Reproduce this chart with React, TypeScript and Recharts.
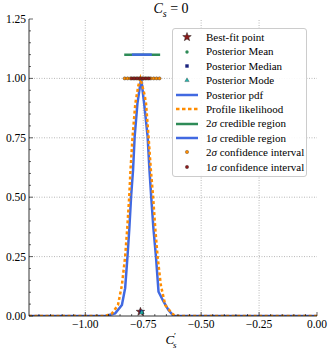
import React from "react";
import {
  ComposedChart,
  Line,
  Scatter,
  XAxis,
  YAxis,
  ReferenceLine,
  Legend,
} from "recharts";

// ---- data ----
const posteriorPdf = [
  { x: -1.243, y: 0 },
  { x: -0.914, y: 0 },
  { x: -0.871, y: 0.011 },
  { x: -0.842, y: 0.046 },
  { x: -0.828, y: 0.117 },
  { x: -0.818, y: 0.25 },
  { x: -0.81, y: 0.369 },
  { x: -0.802, y: 0.509 },
  { x: -0.794, y: 0.614 },
  { x: -0.787, y: 0.755 },
  { x: -0.775, y: 0.895 },
  { x: -0.759, y: 1.0 },
  { x: -0.746, y: 0.895 },
  { x: -0.731, y: 0.755 },
  { x: -0.723, y: 0.614 },
  { x: -0.716, y: 0.509 },
  { x: -0.706, y: 0.369 },
  { x: -0.695, y: 0.25 },
  { x: -0.684, y: 0.102 },
  { x: -0.662, y: 0.06 },
  { x: -0.641, y: 0.025 },
  { x: -0.619, y: 0 },
  { x: 0, y: 0 },
];

const profileLikelihood = [
  { x: -1.243, y: 0 },
  { x: -0.914, y: 0 },
  { x: -0.885, y: 0.011 },
  { x: -0.859, y: 0.046 },
  { x: -0.842, y: 0.13 },
  { x: -0.828, y: 0.25 },
  { x: -0.819, y: 0.369 },
  { x: -0.81, y: 0.509 },
  { x: -0.805, y: 0.614 },
  { x: -0.796, y: 0.755 },
  { x: -0.784, y: 0.895 },
  { x: -0.771, y: 0.97 },
  { x: -0.762, y: 1.0 },
  { x: -0.744, y: 0.93 },
  { x: -0.738, y: 0.895 },
  { x: -0.727, y: 0.755 },
  { x: -0.717, y: 0.614 },
  { x: -0.708, y: 0.509 },
  { x: -0.698, y: 0.369 },
  { x: -0.688, y: 0.25 },
  { x: -0.674, y: 0.13 },
  { x: -0.655, y: 0.046 },
  { x: -0.626, y: 0.011 },
  { x: -0.61, y: 0 },
  { x: 0, y: 0 },
];

const credible2 = [
  { x: -0.832, y: 1.1 },
  { x: -0.677, y: 1.1 },
];
const credible1 = [
  { x: -0.799, y: 1.1 },
  { x: -0.713, y: 1.1 },
];

const confidence2 = [
  -0.83, -0.8175, -0.805, -0.7925, -0.78, -0.7675, -0.755, -0.7425, -0.73,
  -0.7175, -0.705, -0.6925, -0.68,
].map((x) => ({ x, y: 1.0 }));
const confidence1 = [
  -0.8, -0.7875, -0.775, -0.7625, -0.75, -0.7375, -0.725,
].map((x) => ({ x, y: 1.0 }));

const bestFit = [{ x: -0.762, y: 0.018 }];
const postMean = [{ x: -0.758, y: 0.018 }];
const postMedian = [{ x: -0.758, y: 0.018 }];
const postMode = [{ x: -0.756, y: 0.016 }];

const xMajor = [-1.0, -0.75, -0.5, -0.25, 0.0];
const xMajorLabels = ["\u22121.00", "\u22120.75", "\u22120.50", "\u22120.25", "0.00"];
const xMinor = [
  -1.2, -1.15, -1.1, -1.05, -0.95, -0.9, -0.85, -0.8, -0.7, -0.65, -0.6, -0.55,
  -0.45, -0.4, -0.35, -0.3, -0.2, -0.15, -0.1, -0.05,
];
const yMajor = [0, 0.25, 0.5, 0.75, 1.0, 1.25];
const yMajorLabels = ["0.00", "0.25", "0.50", "0.75", "1.00", "1.25"];
const yMinor = [
  0.05, 0.1, 0.15, 0.2, 0.3, 0.35, 0.4, 0.45, 0.55, 0.6, 0.65, 0.7, 0.8, 0.85,
  0.9, 0.95, 1.05, 1.1, 1.15, 1.2,
];

const X_DOMAIN: [number, number] = [-1.243, 0];
const Y_DOMAIN: [number, number] = [0, 1.25];

const BLUE = "#4169e1";
const ORANGE = "#ff8c00";
const GREEN = "#2e8b57";
const DARKRED = "#8b1a1a";
const NAVY = "#1a237e";
const TEAL = "#20b2aa";
const FONT = "Liberation Serif, serif";

const isMajorX = (v: number) => xMajor.some((m) => Math.abs(m - v) < 1e-6);
const isMajorY = (v: number) => yMajor.some((m) => Math.abs(m - v) < 1e-6);
const xTicks = [...xMajor, ...xMinor].sort((a, b) => a - b);
const yTicks = [...yMajor, ...yMinor].sort((a, b) => a - b);

const labelFor = (vals: number[], labels: string[], v: number) => {
  const i = vals.findIndex((m) => Math.abs(m - v) < 1e-6);
  return i >= 0 ? labels[i] : "";
};

const BottomTick = (p: any) => {
  const v = p.payload.value;
  const major = isMajorX(v);
  return (
    <g>
      <line x1={p.x} x2={p.x} y1={p.y} y2={p.y - (major ? 4 : 2)} stroke="#000" strokeWidth={0.6} />
      {major && (
        <text x={p.x} y={p.y + 12} textAnchor="middle" fontFamily={FONT} fontSize={11.5} fill="#000">
          {labelFor(xMajor, xMajorLabels, v)}
        </text>
      )}
    </g>
  );
};
const TopTick = (p: any) => {
  const major = isMajorX(p.payload.value);
  return <line x1={p.x} x2={p.x} y1={p.y} y2={p.y + (major ? 4 : 2)} stroke="#000" strokeWidth={0.6} />;
};
const LeftTick = (p: any) => {
  const v = p.payload.value;
  const major = isMajorY(v);
  return (
    <g>
      <line x1={p.x} x2={p.x + (major ? 4 : 2)} y1={p.y} y2={p.y} stroke="#000" strokeWidth={0.6} />
      {major && (
        <text x={p.x - 3} y={p.y + 4} textAnchor="end" fontFamily={FONT} fontSize={11.5} fill="#000">
          {labelFor(yMajor, yMajorLabels, v)}
        </text>
      )}
    </g>
  );
};
const RightTick = (p: any) => {
  const major = isMajorY(p.payload.value);
  return <line x1={p.x} x2={p.x - (major ? 4 : 2)} y1={p.y} y2={p.y} stroke="#000" strokeWidth={0.6} />;
};

const dotShape = (fill: string, r: number) => (p: any) =>
  <circle cx={p.cx} cy={p.cy} r={r} fill={fill} stroke="#222" strokeWidth={0.4} />;

const starPath = (cx: number, cy: number, R: number) => {
  const pts: string[] = [];
  for (let i = 0; i < 10; i++) {
    const r = i % 2 === 0 ? R : R * 0.42;
    const a = -Math.PI / 2 + (i * Math.PI) / 5;
    pts.push(`${cx + r * Math.cos(a)},${cy + r * Math.sin(a)}`);
  }
  return `M${pts.join("L")}Z`;
};
const StarShape = (p: any) => <path d={starPath(p.cx, p.cy, 4.5)} fill={DARKRED} stroke="#222" strokeWidth={0.5} />;
const SquareShape = (p: any) => <rect x={p.cx - 1.8} y={p.cy - 1.8} width={3.6} height={3.6} fill={NAVY} />;
const TriShape = (p: any) => (
  <path d={`M${p.cx},${p.cy - 2.5}L${p.cx + 2.4},${p.cy + 1.8}L${p.cx - 2.4},${p.cy + 1.8}Z`} fill={TEAL} stroke="#222" strokeWidth={0.3} />
);

const legendItems: { label: React.ReactNode; icon: React.ReactNode }[] = [
  { label: "Best-fit point", icon: <path d={starPath(11, 5, 4.5)} fill={DARKRED} stroke="#222" strokeWidth={0.5} /> },
  { label: "Posterior Mean", icon: <circle cx={11} cy={5} r={1.7} fill={GREEN} /> },
  { label: "Posterior Median", icon: <rect x={9.3} y={3.3} width={3.4} height={3.4} fill={NAVY} /> },
  { label: "Posterior Mode", icon: <path d="M11,2.8L13.2,6.6L8.8,6.6Z" fill={TEAL} stroke="#222" strokeWidth={0.3} /> },
  { label: "Posterior pdf", icon: <line x1={0} x2={22} y1={5} y2={5} stroke={BLUE} strokeWidth={2.5} /> },
  { label: "Profile likelihood", icon: <line x1={0} x2={22} y1={5} y2={5} stroke={ORANGE} strokeWidth={2.5} strokeDasharray="3.5 2.5" /> },
  { label: <>2<i>σ</i> credible region</>, icon: <line x1={0} x2={22} y1={5} y2={5} stroke={GREEN} strokeWidth={2.5} /> },
  { label: <>1<i>σ</i> credible region</>, icon: <line x1={0} x2={22} y1={5} y2={5} stroke={BLUE} strokeWidth={2.5} /> },
  { label: <>2<i>σ</i> confidence interval</>, icon: <circle cx={11} cy={5} r={1.7} fill={ORANGE} stroke="#222" strokeWidth={0.3} /> },
  { label: <>1<i>σ</i> confidence interval</>, icon: <circle cx={11} cy={5} r={1.7} fill={DARKRED} stroke="#222" strokeWidth={0.3} /> },
];

const LegendBox = () => (
  <div
    style={{
      border: "1px solid #ccc",
      borderRadius: 3,
      background: "rgba(255,255,255,0.9)",
      padding: "1px 4px 2px 3px",
      fontFamily: FONT,
      fontSize: 11,
      lineHeight: "14.4px",
      width: 135,
      boxSizing: "border-box",
    }}
  >
    {legendItems.map((it, i) => (
      <div key={i} style={{ display: "flex", alignItems: "center", height: 14.4, whiteSpace: "nowrap" }}>
        <svg width={22} height={10} style={{ marginRight: 8, flex: "none" }}>
          {it.icon}
        </svg>
        <span>{it.label}</span>
      </div>
    ))}
  </div>
);

export default function App() {
  return (
    <div style={{ position: "absolute", left: 0, top: 0, width: 332, height: 351, background: "#fff" }}>
      <ComposedChart width={332} height={351} margin={{ top: 19, right: 15, bottom: 15, left: 1 }}>
        <XAxis
          xAxisId="b"
          type="number"
          dataKey="x"
          domain={X_DOMAIN}
          allowDataOverflow
          ticks={xTicks}
          interval={0}
          tickSize={0}
          tickMargin={0}
          tick={BottomTick}
          height={20}
          axisLine={{ stroke: "#000", strokeWidth: 0.8 }}
          tickLine={false}
        />
        <XAxis
          xAxisId="t"
          orientation="top"
          type="number"
          domain={X_DOMAIN}
          allowDataOverflow
          ticks={xTicks}
          interval={0}
          tickSize={0}
          tickMargin={0}
          tick={TopTick}
          height={0}
          axisLine={{ stroke: "#000", strokeWidth: 0.8 }}
          tickLine={false}
        />
        <YAxis
          yAxisId="l"
          type="number"
          domain={Y_DOMAIN}
          allowDataOverflow
          ticks={yTicks}
          interval={0}
          tickSize={0}
          tickMargin={0}
          tick={LeftTick}
          width={28}
          axisLine={{ stroke: "#000", strokeWidth: 0.8 }}
          tickLine={false}
        />
        <YAxis
          yAxisId="r"
          orientation="right"
          type="number"
          domain={Y_DOMAIN}
          allowDataOverflow
          ticks={yTicks}
          interval={0}
          tickSize={0}
          tickMargin={0}
          tick={RightTick}
          width={0}
          axisLine={{ stroke: "#000", strokeWidth: 0.8 }}
          tickLine={false}
        />
        {xMajor.filter((v) => v > X_DOMAIN[0] && v < X_DOMAIN[1]).map((v) => (
          <ReferenceLine key={"gx" + v} xAxisId="b" yAxisId="l" x={v} stroke="#999" strokeWidth={0.7} strokeDasharray="1 1.5" />
        ))}
        {yMajor.filter((v) => v > Y_DOMAIN[0] && v < Y_DOMAIN[1]).map((v) => (
          <ReferenceLine key={"gy" + v} xAxisId="b" yAxisId="l" y={v} stroke="#999" strokeWidth={0.7} strokeDasharray="1 1.5" />
        ))}
        <Line xAxisId="b" yAxisId="l" data={credible2} dataKey="y" stroke={GREEN} strokeWidth={2.5} dot={false} activeDot={false} isAnimationActive={false} />
        <Line xAxisId="b" yAxisId="l" data={credible1} dataKey="y" stroke={BLUE} strokeWidth={2.5} dot={false} activeDot={false} isAnimationActive={false} />
        <Scatter xAxisId="b" yAxisId="l" data={confidence2} dataKey="y" shape={dotShape(ORANGE, 1.6)} isAnimationActive={false} />
        <Scatter xAxisId="b" yAxisId="l" data={confidence1} dataKey="y" shape={dotShape(DARKRED, 1.6)} isAnimationActive={false} />
        <Line xAxisId="b" yAxisId="l" data={posteriorPdf} dataKey="y" stroke={BLUE} strokeWidth={2.5} dot={false} activeDot={false} isAnimationActive={false} />
        <Line xAxisId="b" yAxisId="l" data={profileLikelihood} dataKey="y" stroke={ORANGE} strokeWidth={2.5} strokeDasharray="3 2.5" dot={false} activeDot={false} isAnimationActive={false} />
        <Scatter xAxisId="b" yAxisId="l" data={bestFit} dataKey="y" shape={StarShape} isAnimationActive={false} />
        <Scatter xAxisId="b" yAxisId="l" data={postMean} dataKey="y" shape={dotShape(GREEN, 1.6)} isAnimationActive={false} />
        <Scatter xAxisId="b" yAxisId="l" data={postMedian} dataKey="y" shape={SquareShape} isAnimationActive={false} />
        <Scatter xAxisId="b" yAxisId="l" data={postMode} dataKey="y" shape={TriShape} isAnimationActive={false} />
        <Legend
          layout="vertical"
          align="center"
          verticalAlign="middle"
          content={() => <LegendBox />}
          wrapperStyle={{ position: "absolute", left: 172, top: 28, width: 136, height: "auto" }}
        />
      </ComposedChart>
      <div
        style={{
          position: "absolute",
          left: 0,
          width: 332,
          top: 0,
          paddingLeft: 10,
          boxSizing: "border-box",
          textAlign: "center",
          fontFamily: FONT,
          fontSize: 14,
          lineHeight: "18px",
        }}
      >
        <i>C</i>
        <sub style={{ fontSize: 10 }}><i>s</i></sub> = 0
      </div>
      <div
        style={{
          position: "absolute",
          left: 0,
          width: 332,
          top: 328,
          paddingLeft: 10,
          boxSizing: "border-box",
          textAlign: "center",
          fontFamily: FONT,
          fontSize: 13,
          lineHeight: "16px",
        }}
      >
        <i>C</i>
        <sup style={{ fontSize: 9, verticalAlign: "5px" }}>′</sup>
        <sub style={{ fontSize: 9, marginLeft: -3 }}><i>s</i></sub>
      </div>
    </div>
  );
}
